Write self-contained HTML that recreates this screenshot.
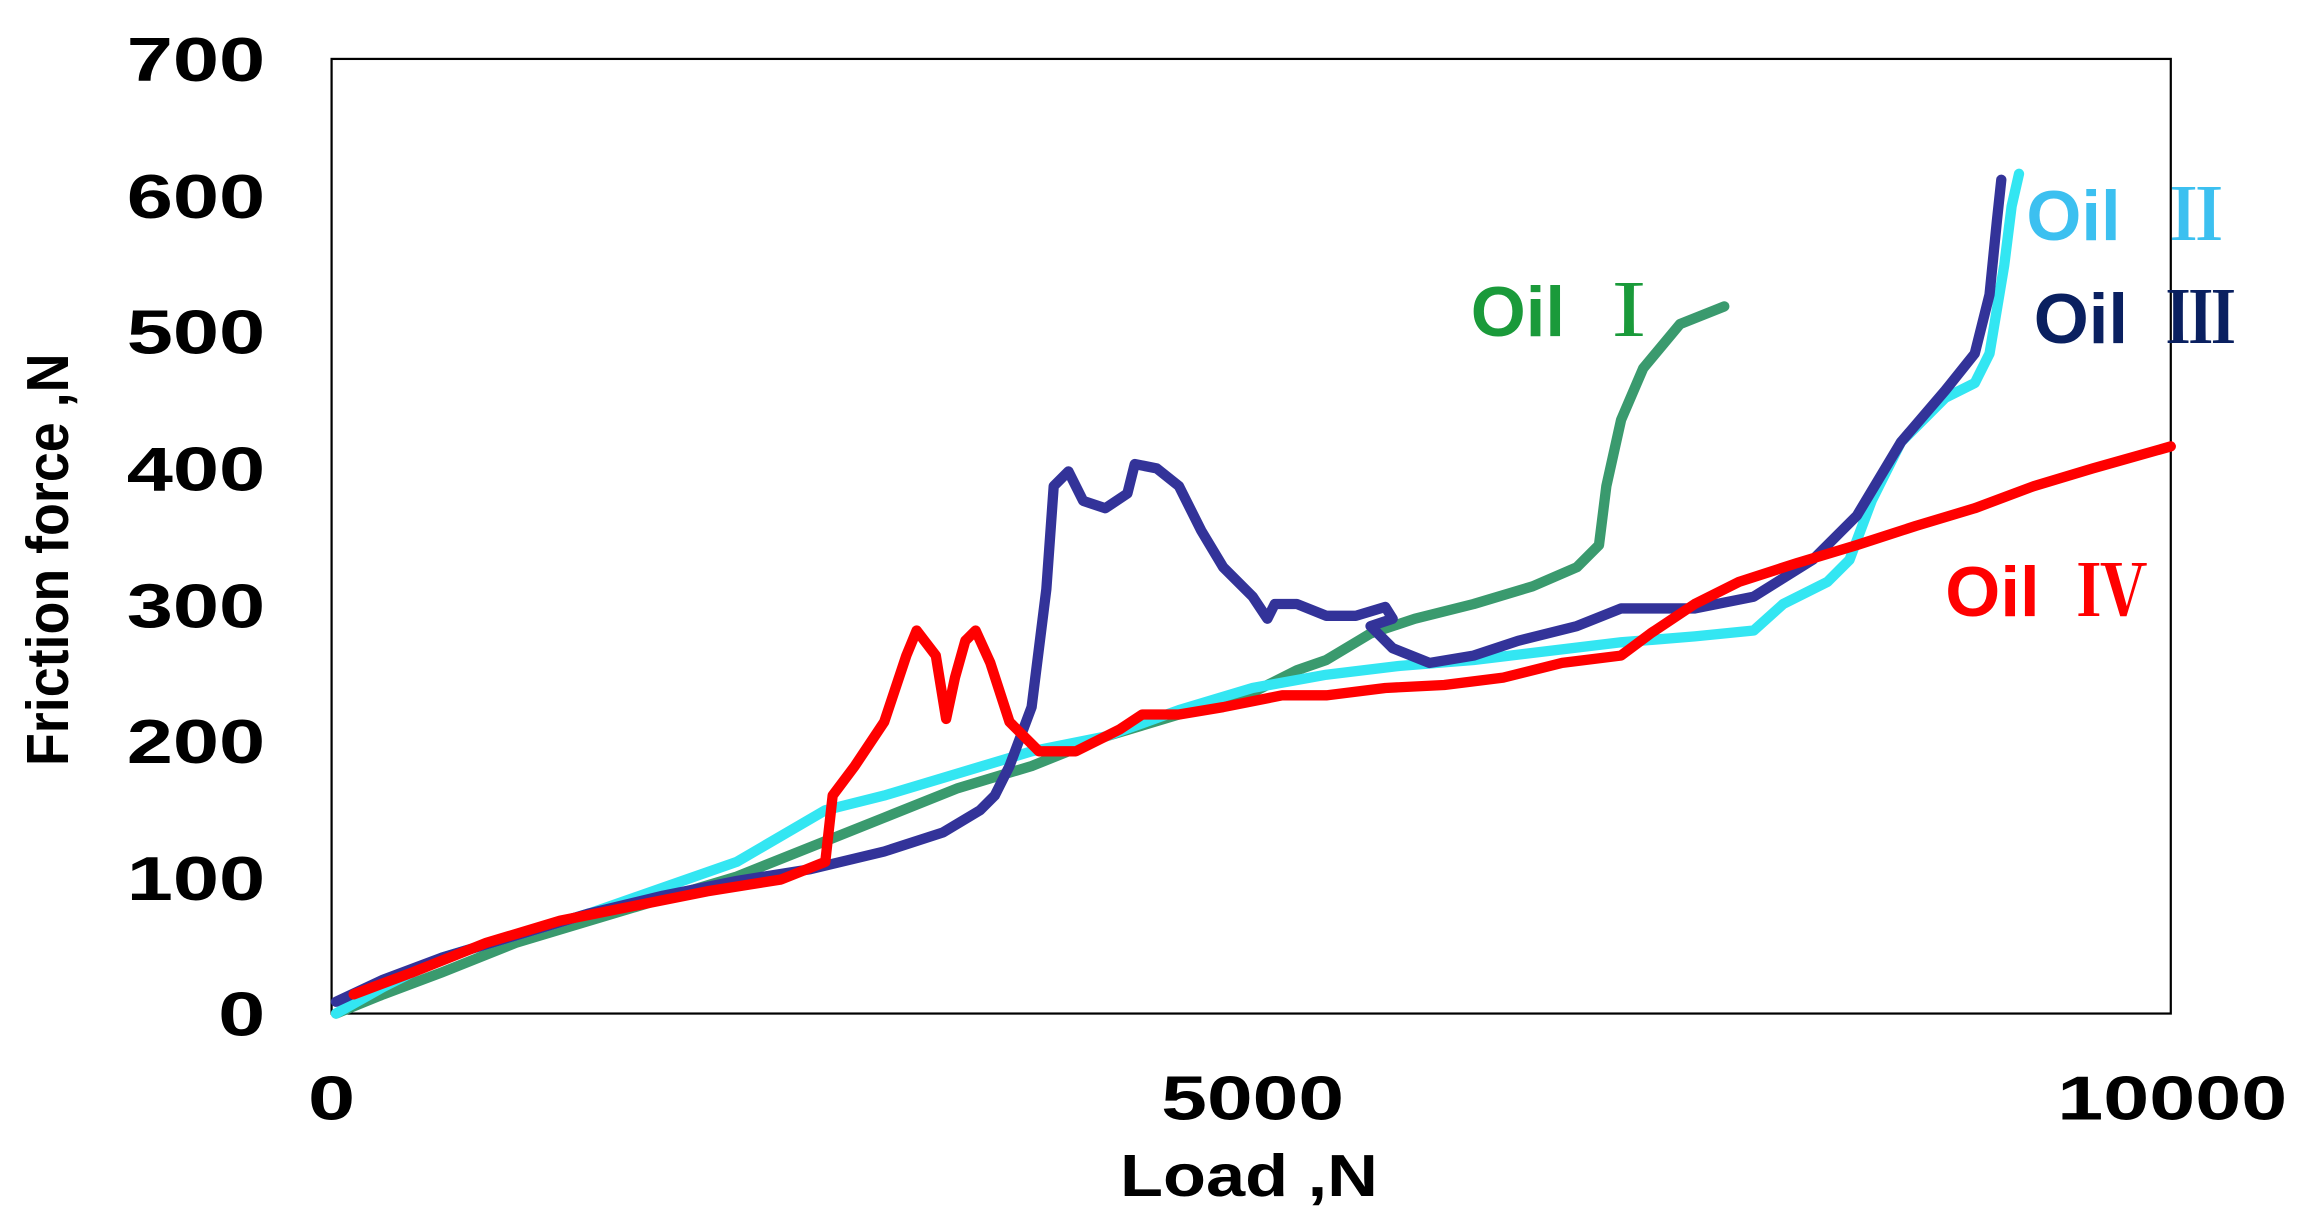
<!DOCTYPE html>
<html><head><meta charset="utf-8"><style>
html,body{margin:0;padding:0;background:#fff;}
svg{display:block;}
text{font-family:"Liberation Sans",sans-serif;font-weight:bold;}
.r{font-family:"Liberation Serif","Noto Serif CJK SC",serif;font-weight:bold;}
</style></head><body>
<svg width="2299" height="1208" viewBox="0 0 1560 820" preserveAspectRatio="none" xmlns="http://www.w3.org/2000/svg">
<rect x="0" y="0" width="1560" height="820" fill="#fff"/>
<rect x="225" y="40" width="1248" height="648" fill="none" stroke="#000" stroke-width="1.5"/>
<g font-size="42" fill="#000" lengthAdjust="spacingAndGlyphs">
<text x="148" y="703" textLength="32" lengthAdjust="spacingAndGlyphs">0</text>
<text x="86" y="611" textLength="94" lengthAdjust="spacingAndGlyphs">100</text>
<text x="86" y="518" textLength="94" lengthAdjust="spacingAndGlyphs">200</text>
<text x="86" y="426" textLength="94" lengthAdjust="spacingAndGlyphs">300</text>
<text x="86" y="333" textLength="94" lengthAdjust="spacingAndGlyphs">400</text>
<text x="86" y="240" textLength="94" lengthAdjust="spacingAndGlyphs">500</text>
<text x="86" y="148" textLength="94" lengthAdjust="spacingAndGlyphs">600</text>
<text x="86" y="55" textLength="94" lengthAdjust="spacingAndGlyphs">700</text>
<text x="209" y="760" textLength="32" lengthAdjust="spacingAndGlyphs">0</text>
<text x="788" y="760" textLength="124" lengthAdjust="spacingAndGlyphs">5000</text>
<text x="1396" y="760" textLength="156" lengthAdjust="spacingAndGlyphs">10000</text>
<text x="760" y="812" font-size="40" textLength="175" lengthAdjust="spacingAndGlyphs">Load ,N</text>
</g>
<text transform="translate(46,520) rotate(-90)" font-size="40" fill="#000" textLength="280" lengthAdjust="spacingAndGlyphs">Friction force ,N</text>
<g fill="none" stroke-width="7" stroke-linejoin="round" stroke-linecap="round">
<polyline stroke="#3a9a6e" points="228,688 260,675 300,660 350,640 400,625 450,610 500,595 550,575 600,555 650,535 700,520 750,500 800,485 850,470 860,465 880,455 900,448 930,430 960,420 1000,410 1040,398 1070,385 1085,370 1090,330 1100,285 1115,250 1140,220 1170,208"/>
<polyline stroke="#33e6f2" points="228,688 260,670 300,650 400,620 500,585 560,550 600,540 650,525 700,510 750,500 800,482 850,467 900,458 950,452 1000,448 1050,442 1100,436 1150,432 1190,428 1210,410 1240,395 1255,380 1270,340 1290,300 1320,270 1340,260 1350,240 1360,180 1365,140 1370,118"/>
<polyline stroke="#333399" points="228,680 260,665 300,650 350,635 400,620 450,608 500,598 550,590 600,578 640,565 665,550 675,540 685,520 700,480 710,400 715,330 725,320 735,340 750,345 765,335 770,315 785,318 800,330 815,360 830,385 850,405 860,420 865,410 880,410 900,418 920,418 940,412 945,420 930,425 945,440 970,450 1000,445 1030,435 1070,425 1100,413 1150,413 1190,405 1230,380 1260,350 1290,300 1320,265 1340,240 1350,200 1355,150 1358,122"/>
<polyline stroke="#ff0000" points="240,675 280,660 330,640 380,625 430,615 480,605 530,597 560,585 565,540 580,520 600,490 615,445 622,428 635,445 642,488 648,460 655,435 662,428 672,450 685,490 705,510 730,510 760,495 775,485 800,485 830,480 870,472 900,472 940,467 980,465 1020,460 1060,450 1100,445 1120,430 1150,410 1180,395 1220,382 1260,370 1300,357 1340,345 1380,330 1420,318 1473,303"/>
</g>
<g font-size="48">
<text x="998" y="228" fill="#1a9a3a">Oil <tspan class="r" dx="6">Ⅰ</tspan></text>
<text x="1375" y="163" fill="#3cc0f0">Oil <tspan class="r" dx="14">Ⅱ</tspan></text>
<text x="1380" y="233" fill="#0a2060">Oil <tspan class="r" dx="12">Ⅲ</tspan></text>
<text x="1320" y="418" fill="#ff0000">Oil <tspan class="r" dx="12">Ⅳ</tspan></text>
</g>
</svg>
</body></html>
